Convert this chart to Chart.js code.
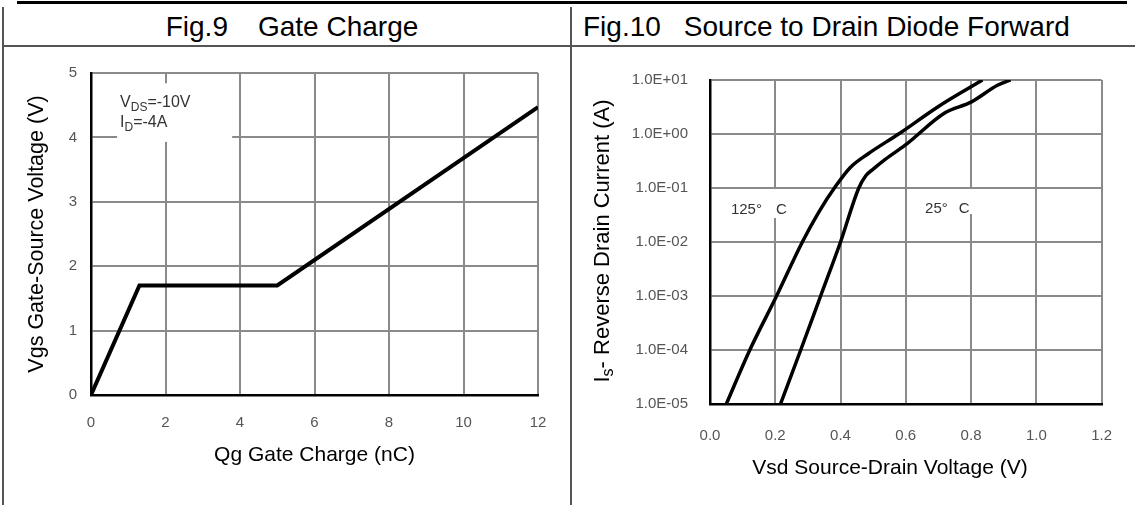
<!DOCTYPE html>
<html>
<head>
<meta charset="utf-8">
<script src="https://cdn.jsdelivr.net/npm/chart.js@4.4.1/dist/chart.umd.min.js"></script>
<style>
  html, body { margin: 0; padding: 0; background: #fff; }
  body { width: 1135px; height: 505px; position: relative; overflow: hidden; font-family: "Liberation Sans", Arial, sans-serif; }
  .rule { position: absolute; background: #555; }
  .head { position: absolute; top: 8px; height: 37px; line-height: 37px; font-size: 28px; color: #000; white-space: pre; }
  .pane { position: absolute; top: 46px; }
</style>
</head>
<body>
<div class="rule" style="left:17px; top:1px; width:1110px; height:3px; background:#000"></div>
<div class="rule" style="left:2px; top:7px; width:2px; height:498px"></div>
<div class="rule" style="left:570px; top:7px; width:2px; height:498px"></div>
<div class="rule" style="left:2px; top:45px; width:1133px; height:2px"></div>
<div class="head" style="left:9px; width:566px; text-align:center">Fig.9<span style="margin-left:30px">Gate Charge</span></div>
<div class="head" style="left:583px">Fig.10<span style="margin-left:23px">Source to Drain Diode Forward</span></div>

<div class="pane" style="left:0"><canvas id="gateChart" width="570" height="459"></canvas></div>
<div class="pane" style="left:572px"><canvas id="diodeChart" width="563" height="459"></canvas></div>

<script>
// Fig.9 gate charge
const qgCharge = [0, 1.3, 5, 12];
const vgsVoltage = [0, 1.7, 1.7, 4.47];
const qgTicks = [0, 2, 4, 6, 8, 10, 12];
const vgsTicks = [0, 1, 2, 3, 4, 5];

// Fig.10 diode forward, two temperatures
const vsd125 = [0.05, 0.122, 0.204, 0.283, 0.333, 0.387, 0.43, 0.486, 0.578, 0.699, 0.80, 0.835];
const is125 = [1e-5, 1e-4, 1e-3, 1e-2, 0.0355, 0.112, 0.24, 0.436, 1.0, 3.2, 7.5, 10];
const vsd25 = [0.216, 0.278, 0.339, 0.40, 0.456, 0.478, 0.50, 0.537, 0.598, 0.719, 0.80, 0.881, 0.921];
const is25 = [1e-5, 1e-4, 1e-3, 1e-2, 0.1, 0.17, 0.224, 0.34, 0.62, 2.45, 3.9, 8.0, 10];
const vsdTicks = [0, 0.2, 0.4, 0.6, 0.8, 1.0, 1.2];
const vsdTickLabels = ['0.0', '0.2', '0.4', '0.6', '0.8', '1.0', '1.2'];
const isTicks = [1e-5, 1e-4, 1e-3, 1e-2, 1e-1, 1, 10];
const isTickLabels = ['1.0E-05', '1.0E-04', '1.0E-03', '1.0E-02', '1.0E-01', '1.0E+00', '1.0E+01'];

const FONT = '"Liberation Sans", Arial, sans-serif';
const GRID = '#8a8a8a';

// text with subscripts, drawn part by part
const partFont = (p, size) => (p.sub ? Math.round(size * 0.72) : size) + 'px ' + FONT;
const measureParts = (ctx, parts, size) => parts.reduce((w, p) => {
    ctx.font = partFont(p, size);
    return w + (p.gap || 0) + ctx.measureText(p.t).width;
}, 0);
const drawParts = (ctx, x, y, parts, size) => {
    let cx = x;
    parts.forEach(p => {
        ctx.font = partFont(p, size);
        cx += p.gap || 0;
        ctx.fillText(p.t, cx, p.sub ? y + size * 0.25 : y);
        cx += ctx.measureText(p.t).width;
    });
};

const notesPlugin = {
    id: 'notes',
    beforeDatasetsDraw(chart, args, opts) {
        const { ctx, scales: { x, y } } = chart;
        ctx.save();
        (opts.items || []).forEach(item => {
            const [x0, y0, x1, y1] = item.box;
            const px0 = x.getPixelForValue(x0), px1 = x.getPixelForValue(x1);
            const py0 = y.getPixelForValue(y0), py1 = y.getPixelForValue(y1);
            ctx.fillStyle = '#fff';
            ctx.fillRect(Math.min(px0, px1), Math.min(py0, py1), Math.abs(px1 - px0), Math.abs(py1 - py0));
            ctx.fillStyle = '#333';
            ctx.textBaseline = 'alphabetic';
            const tx = x.getPixelForValue(item.at[0]);
            const ty = y.getPixelForValue(item.at[1]);
            item.lines.forEach((parts, i) => drawParts(ctx, tx, ty + i * item.lead, parts, item.size));
        });
        ctx.restore();
    }
};

// axis titles placed by hand (subscript + off-centre position in the original)
const axisTitlesPlugin = {
    id: 'axisTitles',
    afterDraw(chart, args, opts) {
        const { ctx } = chart;
        (opts.items || []).forEach(item => {
            ctx.save();
            ctx.translate(item.x, item.y);
            ctx.rotate(item.rot || 0);
            ctx.fillStyle = '#000';
            ctx.textBaseline = 'middle';
            const w = measureParts(ctx, item.parts, item.size);
            drawParts(ctx, -w / 2, 0, item.parts, item.size);
            ctx.restore();
        });
    }
};

const fixedTicks = values => axis => { axis.ticks = values.map(v => ({ value: v })); };

new Chart(document.getElementById('gateChart'), {
    type: 'line',
    data: {
        datasets: [{
            data: qgCharge.map((q, i) => ({ x: q, y: vgsVoltage[i] })),
            borderColor: '#000',
            borderWidth: 4,
            pointRadius: 0,
            tension: 0
        }]
    },
    options: {
        responsive: false,
        animation: false,
        layout: { padding: { left: 0, right: 32, top: 27, bottom: 0 } },
        scales: {
            x: {
                type: 'linear', min: 0, max: 12,
                afterBuildTicks: fixedTicks(qgTicks),
                afterFit: s => { s.height = 110; },
                grid: { color: GRID, lineWidth: 2, drawTicks: false },
                border: { color: '#000', width: 2.5 },
                ticks: { color: '#555', padding: 19, font: { family: FONT, size: 15 } },
                title: { display: true, text: 'Qg Gate Charge (nC)', color: '#000', padding: { top: 0, bottom: 37 }, font: { family: FONT, size: 21 } }
            },
            y: {
                type: 'linear', min: 0, max: 5,
                afterBuildTicks: fixedTicks(vgsTicks),
                afterFit: s => { s.width = 91; },
                grid: { color: GRID, lineWidth: 2, drawTicks: false },
                border: { color: '#000', width: 2.5 },
                ticks: { color: '#555', padding: 14, font: { family: FONT, size: 15 } },
                title: { display: true, text: 'Vgs Gate-Source Voltage (V)', color: '#000', padding: { top: 24, bottom: 0 }, font: { family: FONT, size: 21.5 } }
            }
        },
        plugins: {
            legend: { display: false },
            tooltip: { enabled: false },
            notes: {
                items: [{
                    box: [0.70, 4.84, 3.79, 3.93],
                    at: [0.78, 4.472],
                    lead: 20,
                    size: 16,
                    lines: [
                        [{ t: 'V' }, { t: 'DS', sub: true }, { t: '=-10V' }],
                        [{ t: 'I' }, { t: 'D', sub: true }, { t: '=-4A' }]
                    ]
                }]
            }
        }
    },
    plugins: [notesPlugin]
});

new Chart(document.getElementById('diodeChart'), {
    type: 'line',
    data: {
        datasets: [{
            label: '125° C',
            data: vsd125.map((v, i) => ({ x: v, y: is125[i] })),
            borderColor: '#000',
            borderWidth: 3.5,
            pointRadius: 0,
            cubicInterpolationMode: 'monotone'
        }, {
            label: '25° C',
            data: vsd25.map((v, i) => ({ x: v, y: is25[i] })),
            borderColor: '#000',
            borderWidth: 3.5,
            pointRadius: 0,
            cubicInterpolationMode: 'monotone'
        }]
    },
    options: {
        responsive: false,
        animation: false,
        layout: { padding: { left: 0, right: 30, top: 34, bottom: 0 } },
        scales: {
            x: {
                type: 'linear', min: 0, max: 1.2,
                afterBuildTicks: fixedTicks(vsdTicks),
                afterFit: s => { s.height = 101; },
                grid: { color: GRID, lineWidth: 2, drawTicks: false },
                border: { color: '#000', width: 2.5 },
                ticks: { color: '#555', padding: 23, font: { family: FONT, size: 15 }, callback: (v, i) => vsdTickLabels[i] }
            },
            y: {
                type: 'logarithmic', min: 1e-5, max: 10,
                afterBuildTicks: fixedTicks(isTicks),
                afterFit: s => { s.width = 138; },
                grid: { color: GRID, lineWidth: 2, drawTicks: false },
                border: { color: '#000', width: 2.5 },
                ticks: { color: '#555', padding: 22, font: { family: FONT, size: 15 }, callback: (v, i) => isTickLabels[i] }
            }
        },
        plugins: {
            legend: { display: false },
            tooltip: { enabled: false },
            notes: {
                items: [{
                    box: [0.052, 0.0955, 0.258, 0.0278],
                    at: [0.064, 0.033],
                    lead: 0, size: 15,
                    lines: [[{ t: '125°' }, { t: 'C', gap: 14 }]]
                }, {
                    box: [0.644, 0.0955, 0.826, 0.033],
                    at: [0.659, 0.0344],
                    lead: 0, size: 15,
                    lines: [[{ t: '25°' }, { t: 'C', gap: 11 }]]
                }]
            },
            axisTitles: {
                items: [
                    { x: 318, y: 422, size: 21, parts: [{ t: 'Vsd Source-Drain Voltage (V)' }] },
                    { x: 31, y: 195, rot: -Math.PI / 2, size: 22, parts: [{ t: 'I' }, { t: 's', sub: true }, { t: '- Reverse Drain Current (A)' }] }
                ]
            }
        }
    },
    plugins: [notesPlugin, axisTitlesPlugin]
});
</script>
</body>
</html>
